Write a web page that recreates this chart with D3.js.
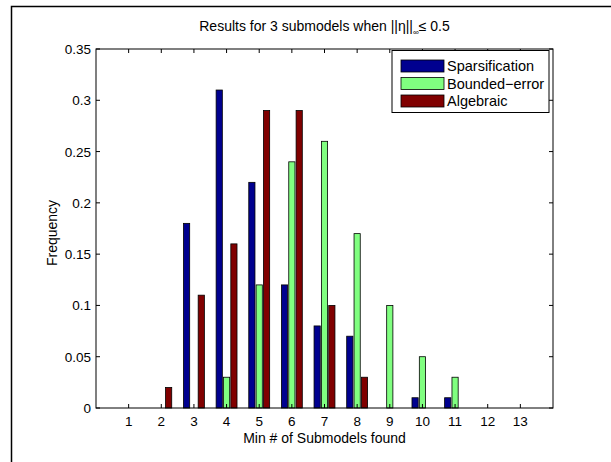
<!DOCTYPE html>
<html>
<head>
<meta charset="utf-8">
<script src="https://cdn.jsdelivr.net/npm/d3@7"></script>
<style>
  body { margin: 0; background: #fff; }
  text { font-family: "Liberation Sans", Arial, sans-serif; }
</style>
</head>
<body>
<svg width="611" height="462"></svg>
<script>
var categories = [1, 2, 3, 4, 5, 6, 7, 8, 9, 10, 11, 12, 13];
var seriesNames = ["Sparsification", "Bounded\u2212error", "Algebraic"];
var sparsification = [0, 0, 0.18, 0.31, 0.22, 0.12, 0.08, 0.07, 0, 0.01, 0.01, 0, 0];
var boundedError = [0, 0, 0, 0.03, 0.12, 0.24, 0.26, 0.17, 0.10, 0.05, 0.03, 0, 0];
var algebraic = [0, 0.02, 0.11, 0.16, 0.29, 0.29, 0.10, 0.03, 0, 0, 0, 0, 0];
var yTicks = [0, 0.05, 0.1, 0.15, 0.2, 0.25, 0.3, 0.35];
var colors = ["#00008f", "#80ff80", "#800000"];

var series = [sparsification, boundedError, algebraic];

var svg = d3.select("svg");
var pLeft = 96, pRight = 553, pTop = 49, pBottom = 408;

var x = d3.scaleLinear().domain([0, 14]).range([pLeft, pRight]);
var y = d3.scaleLinear().domain([0, 0.35]).range([pBottom, pTop]);

// outer figure frame
svg.append("path")
  .attr("d", "M11.5,462 L11.5,6.5 L611,6.5")
  .attr("fill", "none")
  .attr("stroke", "#000")
  .attr("stroke-width", 1.5);

var offset = 0.225, barW = 0.19;

series.forEach(function(vals, s) {
  svg.append("g").selectAll("rect")
    .data(vals)
    .enter()
    .append("rect")
    .attr("x", function(d, i) { return x(categories[i] + (s - 1) * offset - barW / 2); })
    .attr("width", x(barW) - x(0))
    .attr("y", function(d) { return y(d); })
    .attr("height", function(d) { return y(0) - y(d); })
    .attr("fill", colors[s])
    .attr("stroke", "#000")
    .attr("stroke-width", 0.8);
});

// axes box
svg.append("rect")
  .attr("x", pLeft).attr("y", pTop)
  .attr("width", pRight - pLeft).attr("height", pBottom - pTop)
  .attr("fill", "none").attr("stroke", "#000").attr("stroke-width", 1);

var tl = 4;
var ticks = svg.append("g").attr("stroke", "#000").attr("stroke-width", 1);
categories.forEach(function(c) {
  ticks.append("line").attr("x1", x(c)).attr("x2", x(c)).attr("y1", pBottom).attr("y2", pBottom - tl);
  ticks.append("line").attr("x1", x(c)).attr("x2", x(c)).attr("y1", pTop).attr("y2", pTop + tl);
});
yTicks.forEach(function(t) {
  ticks.append("line").attr("x1", pLeft).attr("x2", pLeft + tl).attr("y1", y(t)).attr("y2", y(t));
  ticks.append("line").attr("x1", pRight).attr("x2", pRight - tl).attr("y1", y(t)).attr("y2", y(t));
});

svg.append("g").selectAll("text")
  .data(categories)
  .enter()
  .append("text")
  .attr("x", function(d) { return x(d); })
  .attr("y", 426)
  .attr("text-anchor", "middle")
  .attr("font-size", 13.5)
  .text(function(d) { return d; });

svg.append("g").selectAll("text")
  .data(yTicks)
  .enter()
  .append("text")
  .attr("x", 91)
  .attr("y", function(d) { return y(d) + 5; })
  .attr("text-anchor", "end")
  .attr("font-size", 13.5)
  .text(function(d) { return d; });

svg.append("text")
  .attr("x", (pLeft + pRight) / 2)
  .attr("y", 443)
  .attr("text-anchor", "middle")
  .attr("font-size", 14)
  .text("Min # of Submodels found");

svg.append("text")
  .attr("transform", "translate(57,233) rotate(-90)")
  .attr("text-anchor", "middle")
  .attr("font-size", 14)
  .text("Frequency");

var title = svg.append("text")
  .attr("x", (pLeft + pRight) / 2)
  .attr("y", 31)
  .attr("text-anchor", "middle")
  .attr("font-size", 14);
title.append("tspan").text("Results for 3 submodels when ||\u03b7||");
title.append("tspan").attr("font-size", 8).attr("dy", 4).text("\u221e");
title.append("tspan").attr("dy", -4).text("\u2264 0.5");

// legend
var lg = svg.append("g");
lg.append("rect")
  .attr("x", 392).attr("y", 50.5)
  .attr("width", 157).attr("height", 62)
  .attr("fill", "#fff").attr("stroke", "#000").attr("stroke-width", 1);
seriesNames.forEach(function(n, i) {
  var cy = 66 + i * 17.5;
  lg.append("rect")
    .attr("x", 401).attr("y", cy - 6)
    .attr("width", 43).attr("height", 12)
    .attr("fill", colors[i]).attr("stroke", "#000").attr("stroke-width", 0.8);
  lg.append("text")
    .attr("x", 447).attr("y", cy + 5)
    .attr("font-size", 14.5)
    .text(n);
});
</script>
</body>
</html>
